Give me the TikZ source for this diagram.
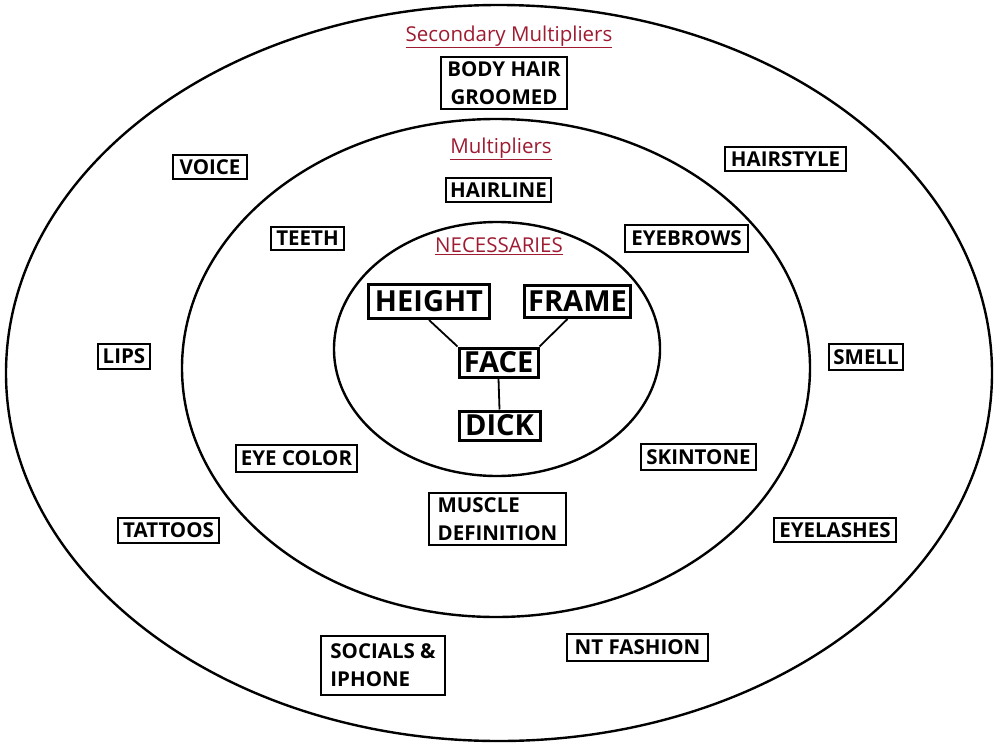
\documentclass[tikz,border=0pt]{standalone}
\usepackage{fontspec}
\setmainfont{Open Sans}
\definecolor{titlered}{HTML}{9E1B32}
\begin{document}
\begin{tikzpicture}[x=1pt,y=-1pt,
  lbl/.style={draw, line width=2.5pt, inner sep=0pt, font=\fontsize{20.5}{28}\selectfont\bfseries, align=center},
  big/.style={draw, line width=3pt, inner sep=0pt, font=\fontsize{29}{31}\selectfont\bfseries},
  ttl/.style={inner sep=0pt, text=titlered, font=\fontsize{20.5}{23}\selectfont},
  ring/.style={draw, line width=2.4pt},
  link/.style={line width=1.8pt}]
\useasboundingbox (0,0) rectangle (1000,752);
% rings
\draw[ring] (499,373) ellipse [x radius=493, y radius=368];
\draw[ring] (496,368) ellipse [x radius=314, y radius=249];
\draw[ring] (497,349) ellipse [x radius=163, y radius=127];
% titles
\node[ttl] (tsec) at (509,37) {\underline{Secondary Multipliers}};
\node[ttl] (tmul) at (501,149) {\underline{Multipliers}};
\node[ttl] (tnec) at (499,246) {\underline{NECESSARIES}};
% outer ring labels
\node[lbl, minimum width=126, minimum height=52] (body) at (504,83) {BODY HAIR\\GROOMED};
\node[lbl, minimum width=74, minimum height=24] (voice) at (210,167) {VOICE};
\node[lbl, minimum width=121, minimum height=24] (hairstyle) at (785.5,159) {HAIRSTYLE};
\node[lbl, minimum width=52, minimum height=25] (lips) at (124,356.5) {LIPS};
\node[lbl, minimum width=74, minimum height=26] (smell) at (866,357) {SMELL};
\node[lbl, minimum width=101, minimum height=25] (tattoos) at (168.5,530.5) {TATTOOS};
\node[lbl, minimum width=122, minimum height=24] (eyelashes) at (835,530) {EYELASHES};
\node[lbl, align=left, minimum width=124, minimum height=59] (socials) at (383,665.5) {SOCIALS \&\\IPHONE};
\node[lbl, minimum width=141, minimum height=27] (fashion) at (637.5,647.5) {NT FASHION};
% middle ring labels
\node[lbl, minimum width=105, minimum height=24] (hairline) at (498.5,190) {HAIRLINE};
\node[lbl, minimum width=73, minimum height=23] (teeth) at (307.5,238.5) {TEETH};
\node[lbl, minimum width=123, minimum height=27] (eyebrows) at (686.5,238.5) {EYEBROWS};
\node[lbl, minimum width=121, minimum height=27] (eyecolor) at (296.5,458.5) {EYE COLOR};
\node[lbl, minimum width=115, minimum height=26] (skintone) at (698.5,457) {SKINTONE};
\node[lbl, align=left, minimum width=137, minimum height=52] (muscle) at (497.5,519) {MUSCLE\\DEFINITION};
% necessaries
\node[big, minimum width=121, minimum height=34] (height) at (429,301.5) {HEIGHT};
\node[big, minimum width=106, minimum height=32] (frame) at (577.5,301.5) {FRAME};
\node[big, minimum width=79, minimum height=29] (face) at (498.5,362.5) {FACE};
\node[big, minimum width=81, minimum height=29] (dick) at (499.5,425.5) {DICK};
\draw[link] (height.south) -- (face.north west);
\draw[link] ([xshift=-10pt]frame.south) -- (face.north east);
\draw[link] (face.south) -- (dick.north);
\end{tikzpicture}
\end{document}
